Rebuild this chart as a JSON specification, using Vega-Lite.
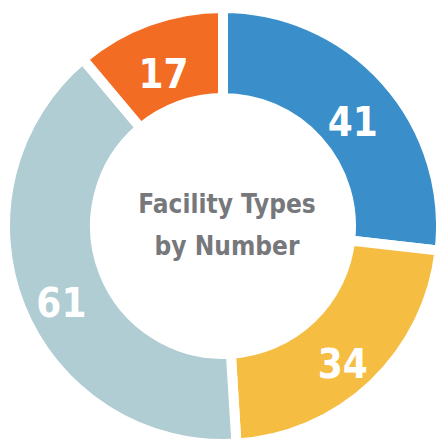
{
  "$schema": "https://vega.github.io/schema/vega-lite/v6.json",
  "width": 436,
  "height": 442,
  "autosize": {"type": "fit", "contains": "padding"},
  "padding": {"left": 10, "top": 10, "right": 0, "bottom": 0},
  "background": "white",
  "view": {"stroke": null},
  "data": {"values": [
    {"type": "A", "count": 41, "rank": 1},
    {"type": "B", "count": 34, "rank": 2},
    {"type": "C", "count": 61, "rank": 3},
    {"type": "D", "count": 17, "rank": 4}
  ]},
  "layer": [
    {
      "mark": {"type": "arc", "outerRadius": 218, "innerRadius": 128, "stroke": "white", "strokeWidth": 10},
      "encoding": {
        "theta": {"field": "count", "type": "quantitative", "stack": true},
        "order": {"field": "rank", "type": "quantitative"},
        "color": {"field": "type", "type": "nominal", "legend": null,
          "scale": {"domain": ["A", "B", "C", "D"], "range": ["#3a8fca", "#f5bd42", "#b0cdd3", "#f26d23"]}}
      }
    },
    {
      "mark": {"type": "text", "radius": 174, "dy": 14, "fill": "white", "font": "'Liberation Sans Narrow', 'DejaVu Sans Condensed', 'Arial Narrow', sans-serif", "fontWeight": "bold", "fontSize": 40},
      "encoding": {
        "theta": {"field": "count", "type": "quantitative", "stack": true},
        "order": {"field": "rank", "type": "quantitative"},
        "text": {"field": "count", "type": "quantitative"}
      }
    },
    {
      "data": {"values": [{"title": ["Facility Types", "by  Number"]}]},
      "mark": {"type": "text", "fill": "#77787b", "font": "'Liberation Sans Narrow', 'DejaVu Sans Condensed', 'Arial Narrow', sans-serif", "fontWeight": "bold", "fontSize": 26, "lineHeight": 42, "align": "center", "baseline": "middle", "dx": 4, "dy": -21},
      "encoding": {"text": {"field": "title"}}
    }
  ]
}
